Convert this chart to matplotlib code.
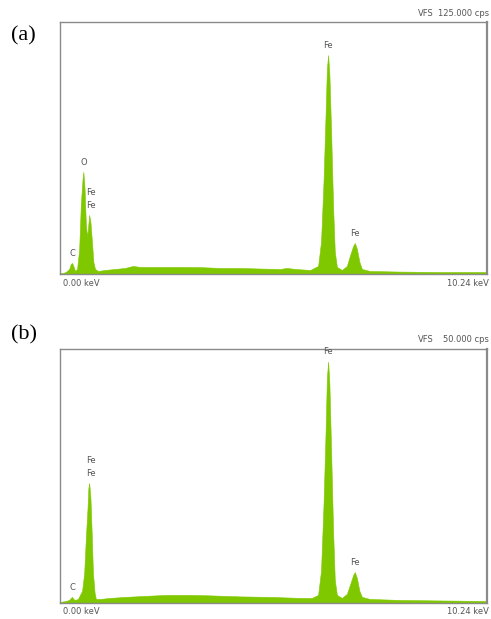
import matplotlib
matplotlib.use("Agg")
import matplotlib.pyplot as plt
import numpy as np

# --- spectrum (a): energy (keV) vs counts (cps) ---
energy_a = [0.00, 0.07, 0.14, 0.22, 0.26, 0.29, 0.32, 0.36, 0.41, 0.46, 0.50, 0.54,
            0.56, 0.59, 0.62, 0.65, 0.67, 0.70, 0.73, 0.77, 0.80, 0.84, 0.91, 1.08,
            1.32, 1.56, 1.75, 1.92, 2.40, 2.88, 3.36, 3.84, 4.32, 4.80, 5.28, 5.44,
            5.64, 6.00, 6.19, 6.26, 6.32, 6.37, 6.40, 6.43, 6.46, 6.50, 6.55, 6.59,
            6.64, 6.76, 6.88, 6.95, 7.03, 7.07, 7.12, 7.18, 7.24, 7.43, 8.15, 9.11,
            10.24]
counts_a = [500, 500, 1000, 2500, 5000, 5500, 4000, 1500, 2500, 12400, 34700, 47100,
            50600, 42200, 24800, 18400, 22300, 29300, 25800, 14900, 6000, 2500, 1500, 2000,
            2500, 3000, 4000, 3500, 3500, 3500, 3400, 3000, 3000, 2700, 2500, 3000,
            2500, 2000, 4000, 16000, 46000, 80000, 101700, 108600, 99200, 72000, 33000, 11000,
            3500, 2000, 4000, 8900, 13900, 15400, 12400, 6000, 2500, 1500, 1200, 1000,
            1000]

# --- spectrum (b) ---
energy_b = [0.00, 0.14, 0.22, 0.26, 0.29, 0.32, 0.36, 0.43, 0.48, 0.53, 0.58, 0.62,
            0.66, 0.68, 0.70, 0.73, 0.76, 0.79, 0.83, 0.86, 0.96, 1.20, 1.56, 2.04,
            2.57, 3.12, 3.60, 4.32, 5.04, 5.76, 6.04, 6.19, 6.26, 6.32, 6.37, 6.40,
            6.43, 6.46, 6.50, 6.55, 6.59, 6.64, 6.76, 6.88, 6.95, 7.03, 7.07, 7.12,
            7.18, 7.24, 7.43, 8.15, 9.11, 10.24]
counts_b = [200, 400, 600, 1000, 1200, 800, 600, 800, 1600, 2400, 5900, 12800,
            18700, 22600, 23600, 20700, 13800, 5900, 2000, 800, 800, 1000, 1200, 1400,
            1600, 1600, 1500, 1300, 1200, 1000, 1000, 1600, 6400, 19500, 34000, 44300,
            47500, 43300, 30500, 14000, 4500, 1600, 1000, 1800, 3500, 5500, 6100, 4900,
            2400, 1200, 800, 600, 500, 400]

vfs = [125000, 50000]
vfs_text = ["125.000 cps", "50.000 cps"]
panel_tags = ["(a)", "(b)"]

# peak labels: (element, energy keV)
labels_a = [("C", 0.29), ("O", 0.56), ("Fe", 0.70), ("Fe", 0.70), ("Fe", 6.43), ("Fe", 7.07)]
labels_b = [("C", 0.29), ("Fe", 0.70), ("Fe", 0.70), ("Fe", 6.43), ("Fe", 7.07)]

GREEN = "#7fc800"
GREY = "#8a8a8a"
TXT = "#555555"

fig = plt.figure(figsize=(4.91, 6.19), dpi=100)
W, H = 491, 619
boxes = [(60, 22, 487, 274), (60, 349, 487, 603)]  # px: left, top, right, bottom

spectra = [(energy_a, counts_a, labels_a), (energy_b, counts_b, labels_b)]

for i, ((x0, y0, x1, y1), (en, ct, labs)) in enumerate(zip(boxes, spectra)):
    ax = fig.add_axes([x0 / W, 1 - y1 / H, (x1 - x0) / W, (y1 - y0) / H])
    en = np.array(en)
    ct = np.array(ct)
    ax.fill_between(en, 0, ct, color=GREEN, lw=0.4, edgecolor=GREEN)
    ax.set_xlim(0, 10.24)
    ax.set_ylim(0, vfs[i])
    ax.set_xticks([])
    ax.set_yticks([])
    for s in ax.spines.values():
        s.set_color(GREY)
        s.set_linewidth(1.0)
    ax.spines["right"].set_linewidth(1.6)

    # peak labels; stacked duplicates go higher
    seen = {}
    for name, e in labs:
        k = round(e, 2)
        n = seen.get(k, 0)
        seen[k] = n + 1
        near = np.abs(en - e) < 0.08
        top = ct[near].max()
        dy = 7 + 9.5 * n
        ax.annotate(name, (e, top), xytext=(1 if name == "Fe" and e < 1 else 0, dy),
                    textcoords="offset points", ha="center", va="center",
                    fontsize=6, color=TXT)

    # header / footer text
    fig.text(418 / W, 1 - (y0 - 9) / H, "VFS", fontsize=6, color=TXT, va="center")
    fig.text(438 / W if i == 0 else 443 / W, 1 - (y0 - 9) / H, vfs_text[i],
             fontsize=6, color=TXT, va="center")
    fig.text(63 / W, 1 - (y1 + 9) / H, "0.00 keV", fontsize=6, color=TXT, va="center")
    fig.text(447 / W, 1 - (y1 + 9) / H, "10.24 keV", fontsize=6, color=TXT, va="center")
    fig.text(11 / W, 1 - (y0 + 14 if i == 0 else y0 - 14) / H, panel_tags[i],
             fontsize=16, family="Liberation Serif", va="center")

fig.savefig("out.png", dpi=100)
